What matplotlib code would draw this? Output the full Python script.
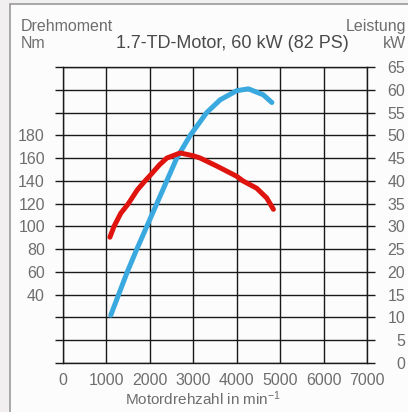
import matplotlib
matplotlib.use('Agg')
import matplotlib.pyplot as plt
from matplotlib.patches import Rectangle

# Daten
drehzahl_leistung = [1100, 1280, 1480, 1700, 1930, 2160, 2390, 2620, 2930, 3310, 3620, 4000, 4270, 4610, 4810]
leistung_kw = [10.5, 15, 20, 25, 30, 35, 40, 45, 50, 55, 57.8, 59.8, 60.2, 58.9, 57.2]

drehzahl_moment = [1080, 1175, 1330, 1505, 1710, 1890, 2000, 2220, 2390, 2700, 3000, 3160, 3540, 4000, 4140,
                   4460, 4690, 4845]
moment_nm = [90.5, 100, 111.5, 120, 132, 140, 144.5, 154, 160, 164.5, 162, 160, 153, 144, 140, 133.5, 125, 115]

x_ticks = [0, 1000, 2000, 3000, 4000, 5000, 6000, 7000]
kw_ticks = list(range(0, 70, 5))
nm_ticks = [40, 60, 80, 100, 120, 140, 160, 180]

plt.rcParams['font.family'] = ['Liberation Sans', 'DejaVu Sans']
plt.rcParams['mathtext.fontset'] = 'custom'
plt.rcParams['mathtext.rm'] = 'Liberation Sans'
plt.rcParams['mathtext.it'] = 'Liberation Sans'

W, H = 408, 412
grau = '#6e6e6e'
linie = '#1a1a1a'
fs = 11.5

fig = plt.figure(figsize=(W / 100, H / 100), dpi=100, facecolor='#f1efef')
fig.patches.append(Rectangle((10 / W, -0.1), 1.2, 1.1 - 4 / H, transform=fig.transFigure,
                             facecolor='#fcfcfc', edgecolor='#9a9a9a', linewidth=1.2, zorder=-5))

ax = fig.add_axes([63 / W, (H - 363) / H, (367 - 63) / W, (363 - 67) / H])
ax.set_facecolor('none')
ax.set_xlim(0, 7000)
ax.set_ylim(0, 65)

# Kurven (Drehmoment auf kW-Skala umgerechnet: 40 Nm = 15 kW, 180 Nm = 50 kW)
ax.plot(drehzahl_leistung, leistung_kw, color='#3aa9df', linewidth=3.6,
        solid_capstyle='round', solid_joinstyle='round', zorder=3)
ax.plot(drehzahl_moment, [(t + 20) / 4 for t in moment_nm], color='#e0140f', linewidth=3.6,
        solid_capstyle='round', solid_joinstyle='round', zorder=3)

# Gitter
ax.set_xticks(x_ticks)
ax.set_yticks(kw_ticks)
ax.grid(True, color=linie, linewidth=1.0)
for s in ax.spines.values():
    s.set_color(linie)
    s.set_linewidth(1.0)

ax.tick_params(axis='x', length=0, pad=7, labelsize=fs, labelcolor=grau)
ax.tick_params(axis='y', left=True, right=True, direction='out', length=5.8, width=1.0, color=linie,
               labelleft=False, labelright=True, labelsize=fs, labelcolor=grau, pad=21.6)
for t in ax.yaxis.get_major_ticks():
    t.label2.set_horizontalalignment('right')

# linke Achse: Drehmoment
sec = ax.secondary_yaxis('left', functions=(lambda p: 4 * p - 20, lambda t: (t + 20) / 4))
sec.set_yticks(nm_ticks)
sec.tick_params(length=0, labelsize=fs, labelcolor=grau, pad=13)
sec.spines['left'].set_visible(False)

# Beschriftungen
fig.text(21 / W, 1 - 31 / H, 'Drehmoment', fontsize=fs, color=grau, va='baseline', ha='left')
fig.text(21 / W, 1 - 48 / H, 'Nm', fontsize=fs, color=grau, va='baseline', ha='left')
fig.text(232 / W, 1 - 48 / H, '1.7-TD-Motor, 60 kW (82 PS)', fontsize=13, color='#4a4a4a',
         va='baseline', ha='center')
fig.text(406 / W, 1 - 31 / H, 'Leistung', fontsize=fs, color=grau, va='baseline', ha='right')
fig.text(406 / W, 1 - 48 / H, 'kW', fontsize=fs, color=grau, va='baseline', ha='right')
fig.text(203 / W, 1 - 399 / H, 'Motordrehzahl in min$^{-1}$', fontsize=11, color=grau,
         va='center', ha='center')

fig.savefig('out.png', dpi=100, facecolor=fig.get_facecolor())
